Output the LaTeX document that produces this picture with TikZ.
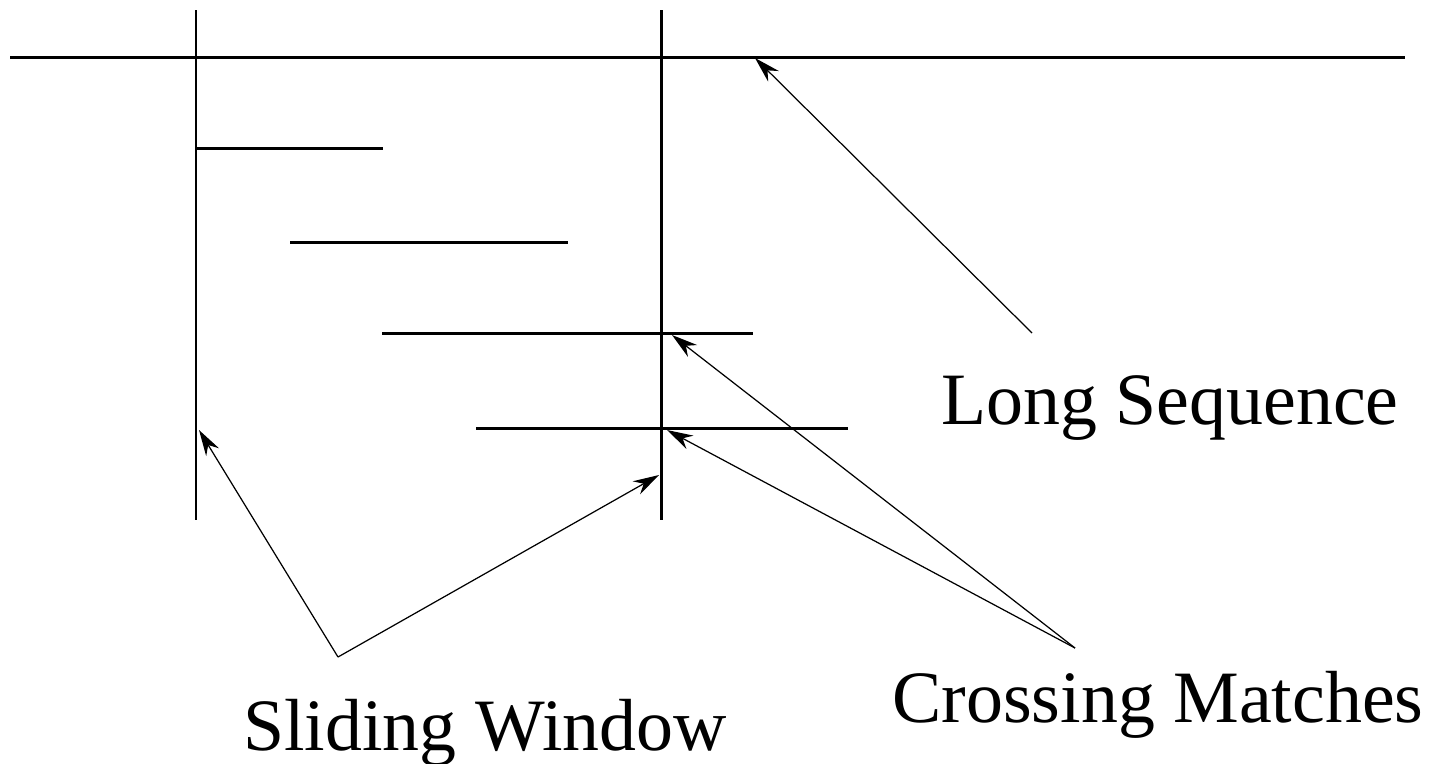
\documentclass[tikz,border=0pt]{standalone}
\usepackage{fontspec}
\setmainfont{Liberation Serif}
\usetikzlibrary{arrows.meta,positioning}

\begin{document}
\begin{tikzpicture}[
    x=0.01cm, y=-0.01cm,
    seq/.style={line width=0.85pt},
    arr/.style={-{Stealth[length=2.6mm,width=1.5mm]}, line width=0.35pt},
    lbl/.style={anchor=base, inner sep=0pt, font=\fontsize{21}{25}\selectfont},
  ]
  \useasboundingbox (0,0) rectangle (1437,763);

  %% ── Long sequence and window borders ─────────────────────
  \coordinate (seqL) at (10,57);
  \coordinate (seqR) at (1405,57);
  \coordinate (winLt) at (196,10);
  \coordinate (winLb) at (196,520);
  \coordinate (winRt) at (661,10);
  \coordinate (winRb) at (661,520);
  \draw[seq] (seqL) -- (seqR);
  \draw[seq] (winLt) -- (winLb);
  \draw[seq] (winRt) -- (winRb);

  %% ── Matches ──────────────────────────────────────────────
  \coordinate (m1a) at (196,148); \coordinate (m1b) at (383,148);
  \coordinate (m2a) at (290,242); \coordinate (m2b) at (568,242);
  \coordinate (m3a) at (382,333); \coordinate (m3b) at (753,333);
  \coordinate (m4a) at (476,428); \coordinate (m4b) at (848,428);
  \draw[seq] (m1a) -- (m1b);
  \draw[seq] (m2a) -- (m2b);
  \draw[seq] (m3a) -- (m3b);
  \draw[seq] (m4a) -- (m4b);

  %% ── Labels ───────────────────────────────────────────────
  \node[lbl] (longseq)  at (1170,424) {Long Sequence};
  \node[lbl] (crossing) at (1158,722) {Crossing Matches};
  \node[lbl] (sliding)  at (485,750)  {Sliding Window};

  %% ── Pointers ─────────────────────────────────────────────
  \coordinate (pLong)  at (1032,333);
  \coordinate (pCross) at (1075,648);
  \coordinate (pSlide) at (338,657);
  \coordinate (hLong)  at (755,58);
  \coordinate (hC1)    at (672,335);
  \coordinate (hC2)    at (667,430);
  \coordinate (hS1)    at (199,430);
  \coordinate (hS2)    at (659,475);
  \draw[arr] (pLong)  -- (hLong);
  \draw[arr] (pCross) -- (hC1);
  \draw[arr] (pCross) -- (hC2);
  \draw[arr] (pSlide) -- (hS1);
  \draw[arr] (pSlide) -- (hS2);

\end{tikzpicture}
\end{document}
